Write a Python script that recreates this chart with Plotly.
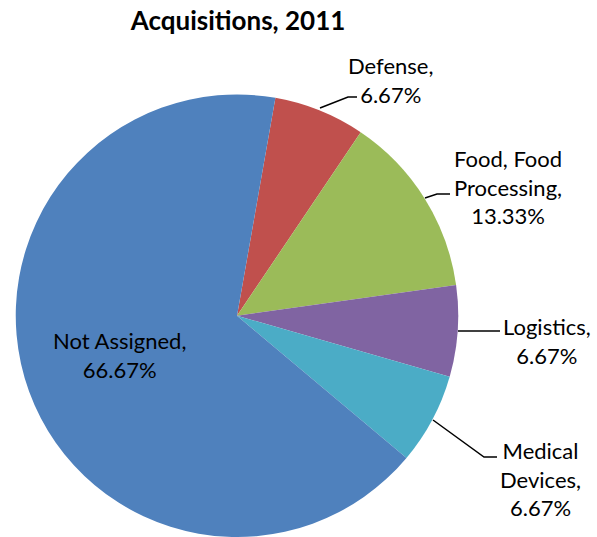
import plotly.graph_objects as go

categories = ["Defense", "Food, Food Processing", "Logistics", "Medical Devices", "Not Assigned"]
counts = [1, 2, 1, 1, 10]
label_lines = [["Defense,"], ["Food, Food", "Processing,"], ["Logistics,"], ["Medical", "Devices,"], ["Not Assigned,"]]
colors = ["#C0504D", "#9BBB59", "#8064A2", "#4BACC6", "#4F81BD"]

W, H = 597, 537
total = sum(counts)
pcts = [c / total * 100 for c in counts]

cx, cy, r = 237, 316, 221.5

fig = go.Figure(go.Pie(
    labels=categories, values=counts, sort=False, direction="clockwise",
    rotation=10, marker=dict(colors=colors, line=dict(width=0)),
    textinfo="none", hoverinfo="label+percent", showlegend=False,
    domain=dict(x=[(cx - r) / W, (cx + r) / W],
                y=[max(0, (H - cy - r) / H), min(1, (H - cy + r) / H)]),
))

# label anchor positions (pixel) and leader lines
label_pos = [(390, 80), (508, 187), (547, 341), (540, 479), (119, 355)]
leaders = [
    [(320, 108), (348, 97), (357, 97)],
    [(425, 198), (437, 194), (450, 194)],
    [(458, 331), (500, 331)],
    [(433, 420), (484, 457), (497, 457)],
    None,
]

def px(x):
    return x / W

def py(y):
    return 1 - y / H

for lines, p, (x, y), ld in zip(label_lines, pcts, label_pos, leaders):
    text = "<br>".join(lines + [f"{p:.2f}%"])
    fig.add_annotation(x=px(x), y=py(y), xref="paper", yref="paper", text=text,
                       showarrow=False, xanchor="center", yanchor="middle",
                       font=dict(family="Lato", size=22, color="#000000"))
    if ld:
        path = "M " + " L ".join(f"{px(a)},{py(b)}" for a, b in ld)
        fig.add_shape(type="path", path=path, xref="paper", yref="paper",
                      line=dict(color="#000000", width=1.5))

fig.update_layout(
    width=W, height=H, margin=dict(l=0, r=0, t=0, b=0),
    paper_bgcolor="white", plot_bgcolor="white",
    title=dict(text="<b>Acquisitions, 2011</b>", x=px(238), xanchor="center",
               y=py(21), yanchor="middle",
               font=dict(family="Lato", size=26, color="#000000")),
)

fig.write_html("out.html", config={"displayModeBar": False},
               post_script="document.body.style.margin='0';")
